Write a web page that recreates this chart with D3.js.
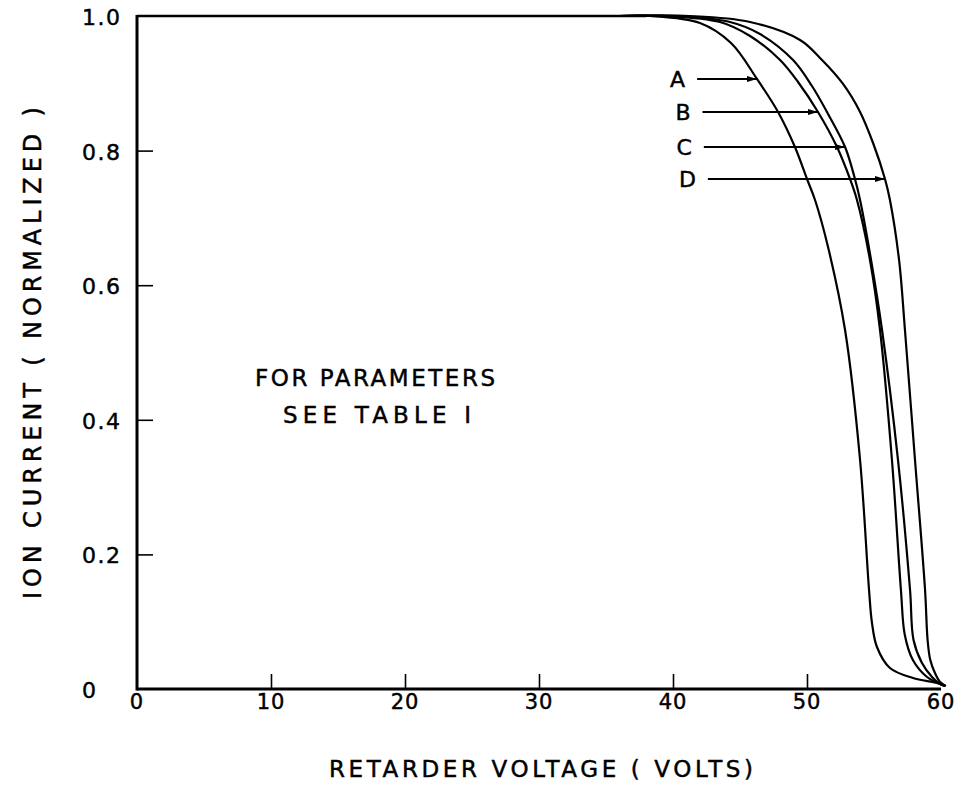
<!DOCTYPE html>
<html>
<head>
<meta charset="utf-8">
<script src="https://cdn.jsdelivr.net/npm/d3@7"></script>
<style>
  body { margin: 0; background: #fff; }
  text { font-family: "DejaVu Sans", sans-serif; fill: #000; stroke: #000; stroke-width: 0.45px; }
</style>
</head>
<body>
<div id="svg-container"></div>
<script>
const Width = 965;
const Height = 789;

// curve data: retarder voltage (V) vs normalized ion current
const voltsA = [36, 38.28, 42.01, 44.33, 46.27, 47.84, 49.10, 50.0, 50.60, 51.57, 52.84, 53.96, 54.63, 54.85, 55.22, 56.19, 57.91, 59.70, 60.30];
const currentA = [1, 1, 0.9896, 0.9599, 0.9064, 0.8574, 0.8053, 0.7578, 0.7266, 0.6568, 0.5334, 0.3403, 0.1471, 0.0981, 0.0624, 0.0312, 0.0163, 0.0089, 0.0045];

const voltsB = [36, 39.40, 43.51, 45.75, 47.99, 49.33, 50.82, 52.24, 53.21, 53.73, 54.70, 55.45, 56.34, 57.01, 57.30, 57.90, 58.96, 59.93, 60.30];
const currentB = [1, 1, 0.9911, 0.9703, 0.9346, 0.9019, 0.8574, 0.8053, 0.7578, 0.7266, 0.6375, 0.5334, 0.3403, 0.1471, 0.0802, 0.0431, 0.0178, 0.0074, 0.0045];

const voltsC = [36, 40.15, 44.25, 46.49, 48.96, 50.37, 51.49, 52.84, 53.58, 53.96, 54.78, 55.60, 56.79, 57.69, 57.95, 58.58, 59.33, 59.93, 60.30];
const currentC = [1, 1, 0.9911, 0.9733, 0.9346, 0.8960, 0.8574, 0.8053, 0.7578, 0.7266, 0.6375, 0.5334, 0.3403, 0.1471, 0.0728, 0.0386, 0.0178, 0.0074, 0.0045];

const voltsD = [36, 41.27, 45.75, 49.48, 51.12, 52.69, 53.96, 54.93, 55.82, 56.19, 56.87, 57.31, 58.06, 58.81, 59.00, 59.20, 59.55, 59.93, 60.37];
const currentD = [1, 1, 0.9911, 0.9643, 0.9346, 0.8990, 0.8574, 0.8113, 0.7578, 0.7266, 0.6375, 0.5334, 0.3403, 0.1471, 0.0728, 0.0431, 0.0238, 0.0104, 0.0045];

const curveNames = ["A", "B", "C", "D"];
// where each labelled arrow touches its curve (volts, current)
const arrowVolts = [46.27, 50.82, 52.84, 55.82];
const arrowCurrent = [0.9064, 0.8574, 0.8053, 0.7578];
// where each arrow tail starts (volts)
const arrowStart = [41.8, 42.2, 42.3, 42.6];

const xTicks = [0, 10, 20, 30, 40, 50, 60];
const yTicks = [0, 0.2, 0.4, 0.6, 0.8, 1.0];
const yTickLabels = ["0", "0.2", "0.4", "0.6", "0.8", "1.0"];

const svg = d3.select("#svg-container").append("svg")
    .attr("width", Width).attr("height", Height);

const x = d3.scaleLinear().domain([0, 60]).range([137, 941]);
const y = d3.scaleLinear().domain([0, 1]).range([689, 16]);

// arrow head
svg.append("defs").append("marker")
    .attr("id", "head")
    .attr("viewBox", "0 0 10 6")
    .attr("refX", 10).attr("refY", 3)
    .attr("markerWidth", 11).attr("markerHeight", 6)
    .attr("markerUnits", "userSpaceOnUse")
    .attr("orient", "auto")
  .append("path")
    .attr("d", "M0,0 L10,3 L0,6 Z")
    .attr("fill", "black");

// frame: left axis, bottom axis, top edge
svg.append("line")
    .attr("x1", x(0)).attr("x2", x(0))
    .attr("y1", y(1) - 1).attr("y2", y(0) + 1.5)
    .attr("stroke", "black").attr("stroke-width", 3);
svg.append("line")
    .attr("x1", x(0)).attr("x2", x(60))
    .attr("y1", y(0)).attr("y2", y(0))
    .attr("stroke", "black").attr("stroke-width", 3);
svg.append("line")
    .attr("x1", x(0)).attr("x2", x(38))
    .attr("y1", y(1)).attr("y2", y(1))
    .attr("stroke", "black").attr("stroke-width", 2.5);

// inward ticks
const xAxis = d3.axisTop(x).tickValues(xTicks.slice(1, -1)).tickSize(15).tickFormat("");
svg.append("g").attr("transform", `translate(0,${y(0)})`).call(xAxis)
    .call(g => g.select(".domain").remove())
    .call(g => g.selectAll(".tick line").attr("stroke-width", 1.6));

const yAxis = d3.axisRight(y).tickValues(yTicks.slice(1, -1)).tickSize(16).tickFormat("");
svg.append("g").attr("transform", `translate(${x(0)},0)`).call(yAxis)
    .call(g => g.select(".domain").remove())
    .call(g => g.selectAll(".tick line").attr("stroke-width", 1.6));

// tick labels
svg.append("g").selectAll("text")
    .data(xTicks)
    .join("text")
    .attr("x", d => x(d))
    .attr("y", 709)
    .attr("text-anchor", "middle")
    .style("font-size", "21px")
    .style("letter-spacing", "1px")
    .text(d => d);

svg.append("g").selectAll("text")
    .data(yTicks)
    .join("text")
    .attr("x", 82)
    .attr("y", d => y(d) + 9)
    .style("font-size", "22px")
    .style("letter-spacing", "1.5px")
    .text((d, i) => yTickLabels[i]);

// axis titles
svg.append("text")
    .attr("x", 541).attr("y", 777)
    .attr("text-anchor", "middle")
    .attr("textLength", 424).attr("lengthAdjust", "spacing")
    .style("font-size", "23px")
    .text("RETARDER VOLTAGE ( VOLTS)");

svg.append("text")
    .attr("transform", "translate(41,353) rotate(-90)")
    .attr("text-anchor", "middle")
    .attr("textLength", 492).attr("lengthAdjust", "spacing")
    .style("font-size", "24px")
    .text("ION CURRENT ( NORMALIZED )");

// note
svg.append("text")
    .attr("x", 255).attr("y", 386)
    .attr("textLength", 240).attr("lengthAdjust", "spacing")
    .style("font-size", "23px")
    .text("FOR PARAMETERS");
svg.append("text")
    .attr("x", 283).attr("y", 423)
    .attr("textLength", 188).attr("lengthAdjust", "spacing")
    .style("font-size", "23px")
    .text("SEE TABLE I");

// curves
const lineGenerator = d3.line()
    .x(d => x(d[0]))
    .y(d => y(d[1]))
    .curve(d3.curveCatmullRom.alpha(0.5));

const series = [
    d3.zip(voltsA, currentA),
    d3.zip(voltsB, currentB),
    d3.zip(voltsC, currentC),
    d3.zip(voltsD, currentD)
];

svg.append("g").selectAll("path")
    .data(series)
    .join("path")
    .attr("d", lineGenerator)
    .attr("fill", "none")
    .attr("stroke", "black")
    .attr("stroke-width", 2.2);

// labelled arrows
const labels = svg.append("g");
curveNames.forEach((name, i) => {
    labels.append("line")
        .attr("x1", x(arrowStart[i])).attr("x2", x(arrowVolts[i]))
        .attr("y1", y(arrowCurrent[i])).attr("y2", y(arrowCurrent[i]))
        .attr("stroke", "black").attr("stroke-width", 2)
        .attr("marker-end", "url(#head)");
    labels.append("text")
        .attr("x", x(arrowStart[i]) - 12)
        .attr("y", y(arrowCurrent[i]) + 8)
        .attr("text-anchor", "end")
        .style("font-size", "22px")
        .text(name);
});
</script>
</body>
</html>
